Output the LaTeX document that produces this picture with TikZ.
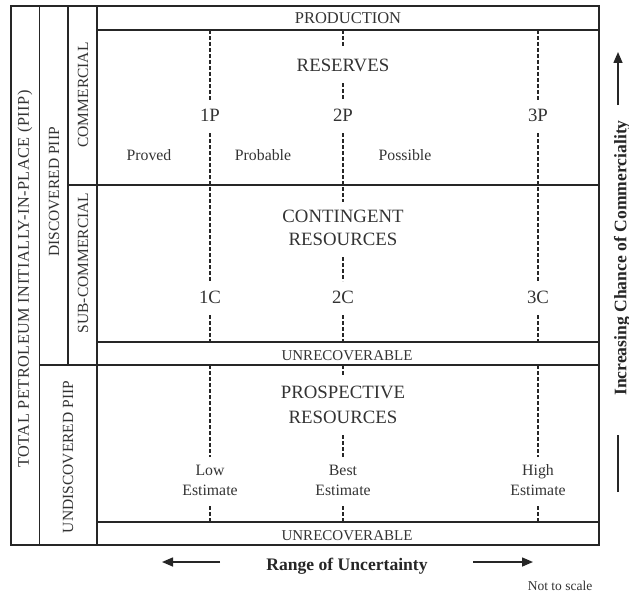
\documentclass[tikz,border=0pt]{standalone}
\usepackage{fontspec}
\setmainfont{Liberation Serif}
\usetikzlibrary{arrows.meta}

\tikzset{
  frame/.style={line width=1.9pt, draw=black!85},
  divider/.style={line width=1.3pt, draw=black!85, dash pattern=on 4pt off 2pt},
  bigtxt/.style={anchor=base, inner sep=0pt, text=black!80, font=\fontsize{18.8}{21}\selectfont},
  bandtxt/.style={anchor=base, inner sep=0pt, text=black!80, font=\fontsize{15}{18}\selectfont},
  smalltxt/.style={anchor=base, inner sep=0pt, text=black!80, font=\fontsize{15.8}{18}\selectfont},
  sidetxt/.style={anchor=center, inner sep=0pt, rotate=90, text=black!80, font=\fontsize{15.5}{18}\selectfont},
  boldtxt/.style={inner sep=0pt, text=black!85, font=\bfseries\fontsize{17.6}{20}\selectfont},
  tip/.style={line width=1.5pt, draw=black!85, -{Triangle[length=11pt,width=9pt]}}
}

\begin{document}
\begin{tikzpicture}[x=1pt, y=-1pt]
  \useasboundingbox (0,0) rectangle (629,594);

  % ---- grid of boxes ----
  \draw[frame] (11,6) rectangle (599,545);
  \draw[frame] (39.5,6) -- (39.5,545);
  \draw[frame] (97,6) -- (97,545);
  \draw[frame] (68,6) -- (68,365);
  \draw[frame] (97,30) -- (599,30);
  \draw[frame] (68,185) -- (599,185);
  \draw[frame] (97,342) -- (599,342);
  \draw[frame] (39.5,365) -- (599,365);
  \draw[frame] (97,522) -- (599,522);

  % ---- row labels on the left ----
  \node[sidetxt, font=\fontsize{16.3}{18}\selectfont\addfontfeatures{LetterSpace=3}] (piip) at (25,279) {TOTAL PETROLEUM INITIALLY-IN-PLACE (PIIP)};
  \node[sidetxt] (disc) at (54,192) {DISCOVERED PIIP};
  \node[sidetxt] (comm) at (83,95) {COMMERCIAL};
  \node[sidetxt] (subc) at (83,263) {SUB-COMMERCIAL};
  \node[sidetxt] (undisc) at (68,457) {UNDISCOVERED PIIP};

  % ---- band labels ----
  \node[bandtxt, font=\fontsize{16.5}{18}\selectfont] (prod) at (348,24) {PRODUCTION};
  \node[bandtxt] (unrec1) at (347,360) {UNRECOVERABLE};
  \node[bandtxt] (unrec2) at (347,540) {UNRECOVERABLE};

  % ---- reserves ----
  \node[bigtxt] (res) at (343,71) {RESERVES};
  \node[bigtxt] (p1) at (210,121) {1P};
  \node[bigtxt] (p2) at (343,121) {2P};
  \node[bigtxt] (p3) at (538,121) {3P};
  \node[smalltxt] (proved) at (149,160) {Proved};
  \node[smalltxt] (probable) at (263,160) {Probable};
  \node[smalltxt] (possible) at (405,160) {Possible};

  % ---- contingent resources ----
  \node[bigtxt] (cont) at (343,222) {CONTINGENT};
  \node[bigtxt] (contres) at (343,245) {RESOURCES};
  \node[bigtxt] (c1) at (210,303) {1C};
  \node[bigtxt] (c2) at (343,303) {2C};
  \node[bigtxt] (c3) at (538,303) {3C};

  % ---- prospective resources ----
  \node[bigtxt] (pros) at (343,398) {PROSPECTIVE};
  \node[bigtxt] (prosres) at (343,423) {RESOURCES};
  \node[smalltxt] (low) at (210,475) {Low};
  \node[smalltxt] (lowest) at (210,495) {Estimate};
  \node[smalltxt] (best) at (343,475) {Best};
  \node[smalltxt] (bestest) at (343,495) {Estimate};
  \node[smalltxt] (high) at (538,475) {High};
  \node[smalltxt] (highest) at (538,495) {Estimate};

  % ---- dashed dividers, low column ----
  \draw[divider] (210,30) -- (210,100);
  \draw[divider] (210,133) -- (210,281);
  \draw[divider] (210,315) -- (210,342);
  \draw[divider] (210,365) -- (210,457);
  \draw[divider] (210,506) -- (210,522);
  % ---- dashed dividers, best column ----
  \draw[divider] (343,30) -- (343,46);
  \draw[divider] (343,83) -- (343,100);
  \draw[divider] (343,133) -- (343,202);
  \draw[divider] (343,257) -- (343,281);
  \draw[divider] (343,315) -- (343,342);
  \draw[divider] (343,365) -- (343,376);
  \draw[divider] (343,435) -- (343,457);
  \draw[divider] (343,506) -- (343,522);
  % ---- dashed dividers, high column ----
  \draw[divider] (538,30) -- (538,100);
  \draw[divider] (538,133) -- (538,281);
  \draw[divider] (538,315) -- (538,342);
  \draw[divider] (538,365) -- (538,457);
  \draw[divider] (538,506) -- (538,522);

  % ---- axis captions ----
  \node[boldtxt, anchor=base] (range) at (347,570) {Range of Uncertainty};
  \coordinate (lt) at (220,562);
  \coordinate (lh) at (162,562);
  \coordinate (rt) at (473,562);
  \coordinate (rh) at (533,562);
  \draw[tip] (lt) -- (lh);
  \draw[tip] (rt) -- (rh);

  \node[boldtxt, rotate=90, anchor=center] (chance) at (622,258) {Increasing Chance of Commerciality};
  \coordinate (ut) at (618,105);
  \coordinate (uh) at (618,52);
  \coordinate (bt) at (618,492);
  \coordinate (bh) at (618,435);
  \draw[tip] (ut) -- (uh);
  \draw[line width=1.5pt, draw=black!85] (bt) -- (bh);

  \node[anchor=base, inner sep=0pt, text=black!80, font=\fontsize{13.5}{15}\selectfont] (scale) at (560,590) {Not to scale};
\end{tikzpicture}
\end{document}
